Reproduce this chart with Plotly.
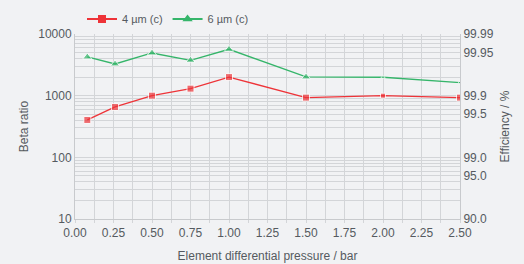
import plotly.graph_objects as go

pressure = [0.08, 0.26, 0.5, 0.75, 1.0, 1.5, 2.0, 2.5]
beta_4um = [404, 656, 1000, 1300, 2000, 930, 1000, 930]
beta_6um = [4240, 3265, 4920, 3745, 5650, 2010, 1990, 1625]

left_ticks = [10, 100, 1000, 10000]
left_labels = ["10", "100", "1000", "10000"]
right_ticks = [10, 50, 100, 500, 1000, 5000, 10000]
right_labels = ["90.0", "95.0", "99.0", "99.5", "99.9", "99.95", "99.99"]

red = "#ee3338"
green = "#35b56a"
grid = "#d3d5d8"
txt = "#555a60"
bg = "#f1f2f4"

minor_vals = [m * 10 ** k for k in range(1, 4) for m in range(2, 10)]

fig = go.Figure()
fig.add_trace(go.Scatter(x=pressure, y=beta_4um, mode="lines+markers", name="4 µm (c)",
                         showlegend=False,
                         line=dict(color=red, width=1.3),
                         marker=dict(symbol="square", color=red, size=[7, 7, 7, 7, 7, 7, 5, 7])))
fig.add_trace(go.Scatter(x=pressure, y=beta_6um, mode="lines+markers", name="6 µm (c)",
                         showlegend=False,
                         line=dict(color=green, width=1.3),
                         marker=dict(symbol="triangle-up", color=green, size=[8, 8, 8, 8, 8, 8, 4, 4])))
# legend entries
fig.add_trace(go.Scatter(x=[None], y=[None], mode="lines+markers", name="4 µm (c)",
                         line=dict(color=red, width=2),
                         marker=dict(symbol="square", color=red, size=8)))
fig.add_trace(go.Scatter(x=[None], y=[None], mode="lines+markers", name="6 µm (c)",
                         line=dict(color=green, width=2),
                         marker=dict(symbol="triangle-up", color=green, size=9)))
fig.add_trace(go.Scatter(x=pressure, y=beta_4um, yaxis="y2", mode="none", showlegend=False,
                         hoverinfo="skip"))

fig.update_layout(
    width=524, height=264,
    margin=dict(l=75, r=64, t=34, b=45),
    paper_bgcolor=bg, plot_bgcolor=bg,
    font=dict(family="Liberation Sans, Arial, sans-serif", size=12, color=txt),
    showlegend=True,
    legend=dict(orientation="h", x=82 / 524, y=(264 - 19) / 264, yanchor="middle", xanchor="left",
                xref="container", yref="container", itemwidth=30,
                font=dict(size=11), bgcolor="rgba(0,0,0,0)",
                tracegroupgap=0),
    xaxis=dict(range=[0, 2.5], tickvals=[i * 0.25 for i in range(11)],
               ticktext=["%.2f" % (i * 0.25) for i in range(11)],
               showgrid=True, gridcolor=grid, gridwidth=1,
               minor=dict(dtick=0.125, showgrid=True, gridcolor=grid, ticks="outside",
                          ticklen=3, tickcolor=grid),
               ticks="outside", ticklen=3, tickcolor=grid,
               showline=True, linecolor="#c8cacd", zeroline=False, automargin=False,
               title=dict(text="Element differential pressure / bar", font=dict(size=12), standoff=12)),
    yaxis=dict(type="log", range=[1, 4], tickvals=left_ticks, ticktext=left_labels,
               showgrid=True, gridcolor=grid, gridwidth=1,
               minor=dict(tickvals=minor_vals, showgrid=True, gridcolor=grid),
               showline=True, linecolor="#c8cacd", zeroline=False, ticks="", automargin=False,
               title=dict(text="Beta ratio", font=dict(size=12), standoff=7)),
    yaxis2=dict(type="log", range=[1, 4], overlaying="y", side="right",
                tickvals=right_ticks, ticktext=right_labels, showgrid=False,
                showline=True, linecolor="#c8cacd", zeroline=False, ticks="", automargin=False,
                title=dict(text="Efficiency / %", font=dict(size=12), standoff=7)),
)

fig.write_html("out.html", config={"displayModeBar": False},
               post_script="document.body.style.margin='0';document.body.style.background='%s';"
                           "document.body.style.overflow='hidden';" % bg)
